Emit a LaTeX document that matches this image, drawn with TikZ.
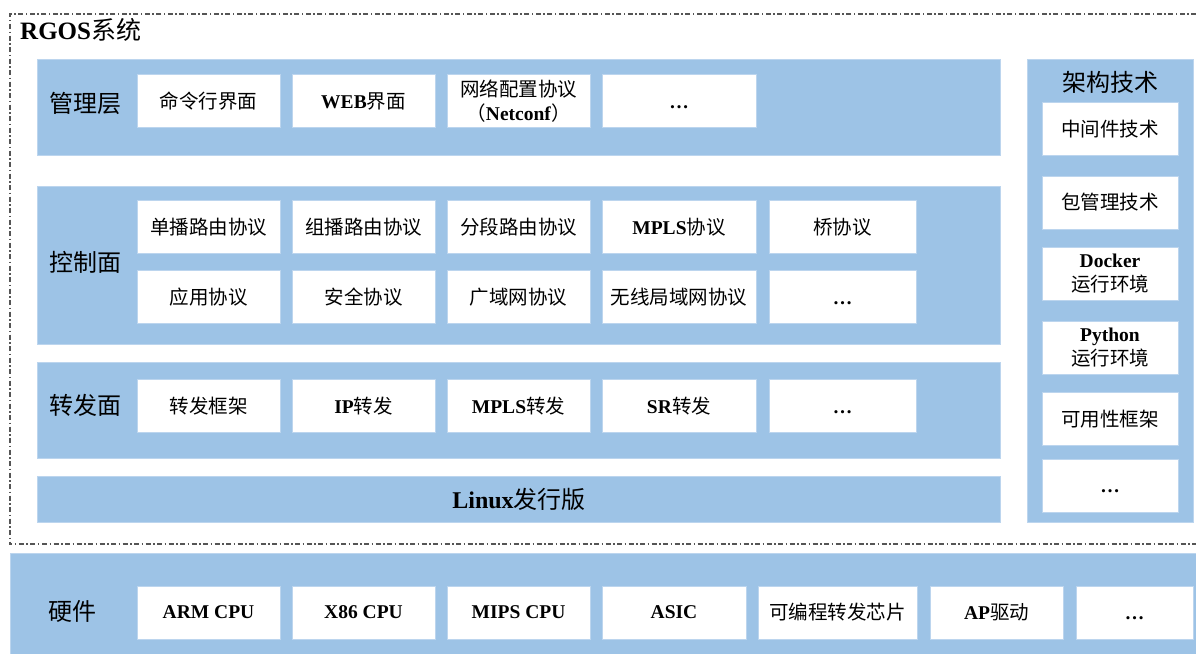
\documentclass[tikz,border=0pt]{standalone}
\usepackage{fontspec}
\setmainfont{Liberation Serif}
\newfontfamily\cjk{Noto Sans CJK SC}
\usepackage{xcolor}
\usepackage{tikz}
\definecolor{bandblue}{RGB}{157,195,230}
\definecolor{bandline}{RGB}{188,213,238}
\definecolor{frameline}{RGB}{85,85,85}
\newcommand{\zh}[1]{{\cjk #1}}
\newcommand{\more}{\smash{\raisebox{-7pt}{\textbf{…}}}}
\newcommand{\boxfont}{\fontsize{19.5}{24}\selectfont}
\newcommand{\layerfont}{\fontsize{24}{28}\selectfont}
\tikzstyle{node:band}=[rectangle,anchor=north west,inner sep=0pt,fill=bandblue,draw=bandline,line width=1pt,font=\layerfont]
\tikzstyle{node:box}=[rectangle,inner sep=0pt,minimum height=53pt,fill=white,draw=bandline,line width=0.8pt,font=\boxfont,align=center]
\tikzstyle{node:layer}=[inner sep=0pt,font=\layerfont]
\tikzstyle{draw:frame}=[draw=frameline,line width=1.1pt,dash pattern=on 5pt off 2.5pt on 1.5pt off 2.5pt]

\begin{document}
\begin{tikzpicture}[x=1pt,y=-1pt]
        \useasboundingbox (0,0) rectangle (1196,653);

        % RGOS frame, open to the right
        \draw[draw:frame] (1196,14) -- (10,14) -- (10,544) -- (1196,544);
        \node[node:layer,anchor=west,font=\fontsize{25}{29}\selectfont] (rgos) at (20,30) {\textbf{RGOS}\zh{系统}};

        % Bands
        \node[node:band,minimum width=963pt,minimum height=96pt] (mgmt) at (37,59) {};
        \node[node:band,minimum width=963pt,minimum height=158pt] (ctrl) at (37,186) {};
        \node[node:band,minimum width=963pt,minimum height=96pt] (fwd) at (37,362) {};
        \node[node:band,minimum width=963pt,minimum height=46pt] (linux) at (37,476) {\textbf{Linux}\zh{发行版}};
        \node[node:band,minimum width=166pt,minimum height=463pt] (arch) at (1027,59) {};
        \node[node:band,minimum width=1190pt,minimum height=104pt] (hw) at (10,553) {};

        % Band labels
        \node[node:layer] (mgmtlabel) at (85,103) {\zh{管理层}};
        \node[node:layer] (ctrllabel) at (85,262) {\zh{控制面}};
        \node[node:layer] (fwdlabel) at (85,405) {\zh{转发面}};
        \node[node:layer] (archlabel) at (1110,82) {\zh{架构技术}};
        \node[node:layer] (hwlabel) at (72,611) {\zh{硬件}};

        % Management layer
        \node[node:box,minimum width=143pt] (cli) at (208.5,101) {\zh{命令行界面}};
        \node[node:box,minimum width=143pt] (web) at (363.5,101) {\textbf{WEB}\zh{界面}};
        \node[node:box,minimum width=143pt] (netconf) at (518.5,101) {\zh{网络配置协议}\\\zh{（}\textbf{Netconf}\zh{）}};
        \node[node:box,minimum width=154pt] (mgmtmore) at (679,101) {\more};

        % Control plane
        \node[node:box,minimum width=143pt] (unicast) at (208.5,227) {\zh{单播路由协议}};
        \node[node:box,minimum width=143pt] (multicast) at (363.5,227) {\zh{组播路由协议}};
        \node[node:box,minimum width=143pt] (segment) at (518.5,227) {\zh{分段路由协议}};
        \node[node:box,minimum width=154pt] (mplsproto) at (679,227) {\textbf{MPLS}\zh{协议}};
        \node[node:box,minimum width=147pt] (bridge) at (842.5,227) {\zh{桥协议}};
        \node[node:box,minimum width=143pt] (app) at (208.5,297) {\zh{应用协议}};
        \node[node:box,minimum width=143pt] (security) at (363.5,297) {\zh{安全协议}};
        \node[node:box,minimum width=143pt] (wan) at (518.5,297) {\zh{广域网协议}};
        \node[node:box,minimum width=154pt] (wlan) at (679,297) {\zh{无线局域网协议}};
        \node[node:box,minimum width=147pt] (ctrlmore) at (842.5,297) {\more};

        % Forwarding plane
        \node[node:box,minimum width=143pt] (fwdframe) at (208.5,406) {\zh{转发框架}};
        \node[node:box,minimum width=143pt] (ipfwd) at (363.5,406) {\textbf{IP}\zh{转发}};
        \node[node:box,minimum width=143pt] (mplsfwd) at (518.5,406) {\textbf{MPLS}\zh{转发}};
        \node[node:box,minimum width=154pt] (srfwd) at (679,406) {\textbf{SR}\zh{转发}};
        \node[node:box,minimum width=147pt] (fwdmore) at (842.5,406) {\more};

        % Architecture technologies
        \node[node:box,minimum width=136pt] (middleware) at (1110,129) {\zh{中间件技术}};
        \node[node:box,minimum width=136pt] (pkgmgmt) at (1110,202.5) {\zh{包管理技术}};
        \node[node:box,minimum width=136pt] (docker) at (1110,274) {\textbf{Docker}\\\zh{运行环境}};
        \node[node:box,minimum width=136pt] (python) at (1110,348) {\textbf{Python}\\\zh{运行环境}};
        \node[node:box,minimum width=136pt] (avail) at (1110,419) {\zh{可用性框架}};
        \node[node:box,minimum width=136pt] (archmore) at (1110,485.5) {\more};

        % Hardware
        \node[node:box,minimum width=143pt] (arm) at (208.5,612.5) {\textbf{ARM CPU}};
        \node[node:box,minimum width=143pt] (x86) at (363.5,612.5) {\textbf{X86 CPU}};
        \node[node:box,minimum width=143pt] (mips) at (518.5,612.5) {\textbf{MIPS CPU}};
        \node[node:box,minimum width=144pt] (asic) at (674,612.5) {\textbf{ASIC}};
        \node[node:box,minimum width=159pt] (progchip) at (837.5,612.5) {\zh{可编程转发芯片}};
        \node[node:box,minimum width=133pt] (apdrv) at (996.5,612.5) {\textbf{AP}\zh{驱动}};
        \node[node:box,minimum width=117pt] (hwmore) at (1134.5,612.5) {\more};

    \end{tikzpicture}
\end{document}
